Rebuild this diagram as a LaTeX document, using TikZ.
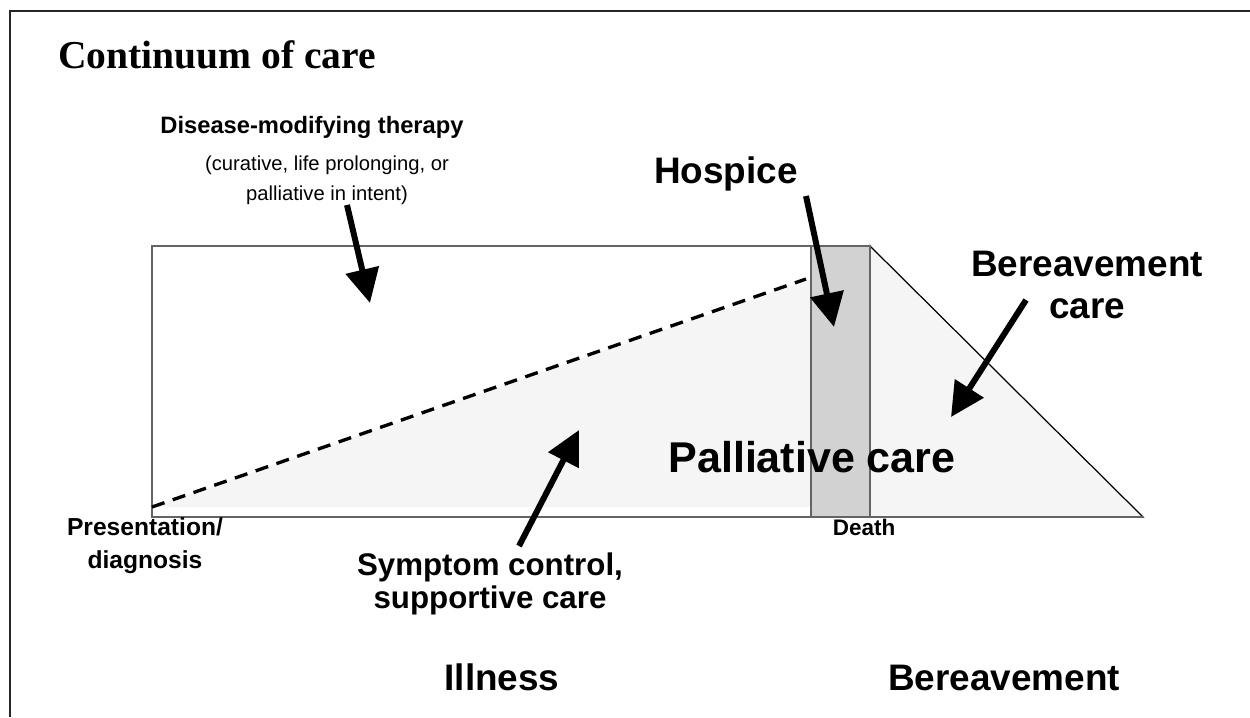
\documentclass[tikz,border=0pt]{standalone}
\usepackage{fontspec}
\setmainfont{Liberation Sans}
\newfontfamily\titlefont{Liberation Serif}
\usetikzlibrary{arrows.meta}
\definecolor{paleshade}{RGB}{245,245,245}
\definecolor{hospshade}{RGB}{210,210,210}
\definecolor{edgegray}{RGB}{100,100,100}

\begin{document}
\begin{tikzpicture}[
        x=0.02cm, y=-0.02cm,
        lbl/.style={align=center, inner sep=0pt, anchor=base},
        big/.style={lbl, font=\bfseries\fontsize{21}{25}\selectfont},
        small/.style={lbl, font=\bfseries\fontsize{12.8}{18.7}\selectfont},
        fat arrow/.style={line width=3.4pt, -{Triangle[length=6.8mm, width=6.6mm]}}
    ]
    \useasboundingbox (0,0) rectangle (1250,717);
    % frame
    \draw[line width=1.7pt, black!85] (1250,11) -- (10,11) -- (10,717);

    % shaded areas
    \fill[paleshade] (152,507) -- (811,279) -- (811,507) -- cycle;
    \filldraw[fill=paleshade, draw=black, line width=0.7pt] (870,246) -- (1143,517) -- (870,517) -- cycle;
    \filldraw[fill=hospshade, draw=edgegray, line width=0.8pt] (811,246) rectangle (870,517);
    \draw[edgegray, line width=1.1pt] (152,246) rectangle (870,517);
    \draw[edgegray, line width=1.1pt] (870,517) -- (1143,517);
    \draw[line width=1.9pt, dash pattern=on 7.5pt off 5pt] (152,507) -- (806,279);

    % labels (multi-line ones sit on the baseline of their last line)
    \node[lbl, anchor=base west, font=\titlefont\bfseries\fontsize{22.5}{26}\selectfont] (title) at (58,68) {Continuum of care};
    \node[lbl, font=\bfseries\fontsize{13.5}{16}\selectfont] (dmt) at (312,133) {Disease-modifying therapy};
    \node[lbl, font=\fontsize{11.5}{17}\selectfont] (intent) at (327,200) {(curative, life prolonging, or\\palliative in intent)};
    \node[big] (hosp) at (726,183) {Hospice};
    \node[lbl, font=\bfseries\fontsize{21}{23.8}\selectfont] (bcare) at (1087,318) {Bereavement\\care};
    \node[lbl, font=\bfseries\fontsize{24.5}{28}\selectfont] (pall) at (812,472) {Palliative care};
    \node[lbl, font=\bfseries\fontsize{14}{18.7}\selectfont] (diag) at (145,568) {Presentation/\\diagnosis};
    \node[small] (death) at (864,535) {Death};
    \node[lbl, font=\bfseries\fontsize{17.8}{18.7}\selectfont] (symp) at (490,608) {Symptom control,\\supportive care};
    \node[big] (ill) at (502,690) {Illness};
    \node[big] (bere) at (1004,690) {Bereavement};

    % arrow ends
    \coordinate (dmt-s) at (347,205);
    \coordinate (dmt-e) at (370,303);
    \coordinate (hosp-s) at (806,196);
    \coordinate (hosp-e) at (834,327);
    \coordinate (bcare-s) at (1026,300);
    \coordinate (bcare-e) at (951,417);
    \coordinate (symp-s) at (519,546);
    \coordinate (symp-e) at (579,430);

    % arrows
    \draw[fat arrow] (dmt-s) -- (dmt-e);
    \draw[fat arrow] (hosp-s) -- (hosp-e);
    \draw[fat arrow] (bcare-s) -- (bcare-e);
    \draw[fat arrow] (symp-s) -- (symp-e);
\end{tikzpicture}
\end{document}
